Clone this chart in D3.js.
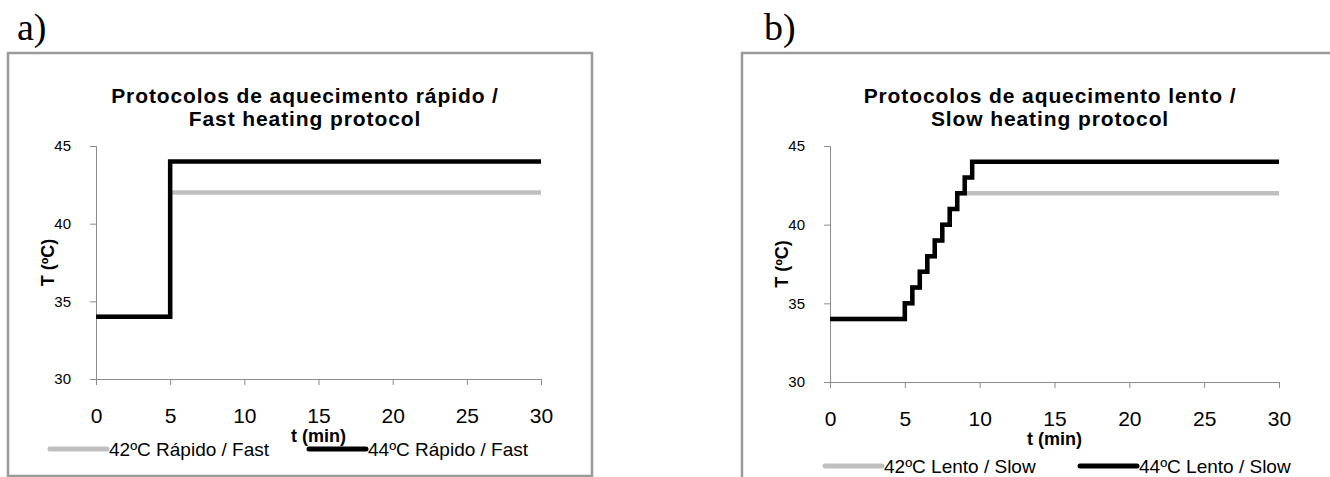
<!DOCTYPE html>
<html>
<head>
<meta charset="utf-8">
<script src="https://cdn.jsdelivr.net/npm/d3@7"></script>
<style>
  body { margin: 0; background: #fff; }
  text { font-family: Arial, "Liberation Sans", sans-serif; }
</style>
</head>
<body>
<div id="chart"></div>
<script>
const width = 1330;
const height = 477;

// data
const timeTicks = [0, 5, 10, 15, 20, 25, 30];
const tempTicks = [30, 35, 40, 45];

const fastTime = [0, 5, 30];
const fast42 = [34, 42, 42];
const fast44 = [34, 44, 44];

const slowTime42 = [0, 5, 5.5, 6, 6.5, 7, 7.5, 8, 8.5, 30];
const slow42 = [34, 35, 36, 37, 38, 39, 40, 41, 42, 42];
const slowTime44 = [0, 5, 5.5, 6, 6.5, 7, 7.5, 8, 8.5, 9, 9.5, 30];
const slow44 = [34, 35, 36, 37, 38, 39, 40, 41, 42, 43, 44, 44];

const panels = [
  {
    tag: "a)", tagX: 17,
    frame: [8, 53, 584, 423],
    plot: { left: 96, right: 541, top: 146, bottom: 379 },
    title: ["Protocolos de aquecimento rápido /", "Fast heating protocol"],
    titleX: 305,
    yTitleX: 48,
    legendY: 449,
    legendItems: [
      { x: 50, label: "42ºC Rápido / Fast", color: "#bfbfbf" },
      { x: 309, label: "44ºC Rápido / Fast", color: "#000" }
    ],
    series: [
      { t: fastTime, v: fast42, color: "#bfbfbf" },
      { t: fastTime, v: fast44, color: "#000" }
    ]
  },
  {
    tag: "b)", tagX: 764,
    frame: [742, 53, 640, 440],
    plot: { left: 830, right: 1279, top: 146, bottom: 382 },
    title: ["Protocolos de aquecimento lento /", "Slow heating protocol"],
    titleX: 1050,
    yTitleX: 782,
    legendY: 466,
    legendItems: [
      { x: 825, label: "42ºC Lento / Slow", color: "#bfbfbf" },
      { x: 1080, label: "44ºC Lento / Slow", color: "#000" }
    ],
    series: [
      { t: slowTime42, v: slow42, color: "#bfbfbf" },
      { t: slowTime44, v: slow44, color: "#000" }
    ]
  }
];

const svg = d3.select("#chart").append("svg")
  .attr("width", width)
  .attr("height", height);

panels.forEach(p => {
  const g = svg.append("g");

  g.append("text")
    .attr("x", p.tagX)
    .attr("y", 40)
    .style("font-family", "'Liberation Serif', 'Times New Roman', serif")
    .style("font-size", "38px")
    .text(p.tag);

  g.append("rect")
    .attr("x", p.frame[0])
    .attr("y", p.frame[1])
    .attr("width", p.frame[2])
    .attr("height", p.frame[3])
    .attr("fill", "none")
    .attr("stroke", "#9a9a9a")
    .attr("stroke-width", 2.5);

  const x = d3.scaleLinear().domain([0, 30]).range([p.plot.left, p.plot.right]);
  const y = d3.scaleLinear().domain([30, 45]).range([p.plot.bottom, p.plot.top]);

  const xAxis = g.append("g")
    .attr("transform", `translate(0,${p.plot.bottom})`)
    .call(d3.axisBottom(x).tickValues(timeTicks).tickSize(6).tickPadding(23));
  xAxis.selectAll("text")
    .style("font-family", "'Liberation Sans Narrow', 'Arial Narrow', sans-serif")
    .style("font-size", "21px")
    .attr("fill", "#000");

  const yAxis = g.append("g")
    .attr("transform", `translate(${p.plot.left},0)`)
    .call(d3.axisLeft(y).tickValues(tempTicks).tickSize(6).tickPadding(19));
  yAxis.selectAll("text")
    .style("font-size", "15px")
    .attr("fill", "#000");

  g.selectAll(".domain, .tick line")
    .attr("stroke", "#8c8c8c");

  g.selectAll(".title")
    .data(p.title)
    .enter().append("text")
      .attr("x", p.titleX)
      .attr("y", (d, i) => 103 + i * 23)
      .attr("text-anchor", "middle")
      .style("font-size", "21px")
      .style("font-weight", "bold")
      .style("letter-spacing", "0.9px")
      .text(d => d);

  g.append("text")
    .attr("transform", `translate(${p.yTitleX},${(p.plot.top + p.plot.bottom) / 2}) rotate(-90)`)
    .attr("text-anchor", "middle")
    .attr("dy", "0.35em")
    .style("font-size", "18px")
    .style("font-weight", "bold")
    .text("T (ºC)");

  g.append("text")
    .attr("x", (p.plot.left + p.plot.right) / 2)
    .attr("y", p.plot.bottom + 63)
    .attr("text-anchor", "middle")
    .style("font-size", "18px")
    .style("font-weight", "bold")
    .text("t (min)");

  const line = d3.line()
    .x(d => x(d[0]))
    .y(d => y(d[1]))
    .curve(d3.curveStepAfter);

  p.series.forEach(s => {
    g.append("path")
      .datum(s.t.map((t, i) => [t, s.v[i]]))
      .attr("d", line)
      .attr("fill", "none")
      .attr("stroke", s.color)
      .attr("stroke-width", 4.5);
  });

  const leg = g.selectAll(".leg")
    .data(p.legendItems)
    .enter().append("g");
  leg.append("line")
    .attr("x1", d => d.x)
    .attr("x2", d => d.x + 57)
    .attr("y1", p.legendY)
    .attr("y2", p.legendY)
    .attr("stroke", d => d.color)
    .attr("stroke-width", 5)
    .attr("stroke-linecap", "round");
  leg.append("text")
    .attr("x", d => d.x + 59)
    .attr("y", p.legendY)
    .attr("dy", "0.35em")
    .style("font-family", "'Liberation Sans Narrow', 'Arial Narrow', sans-serif")
    .style("font-size", "19px")
    .text(d => d.label);
});
</script>
</body>
</html>
